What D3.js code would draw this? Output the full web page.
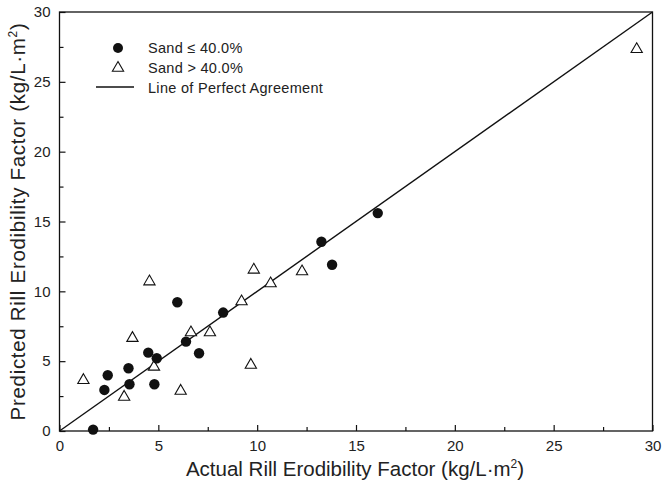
<!DOCTYPE html>
<html><head><meta charset="utf-8">
<script src="https://cdn.jsdelivr.net/npm/d3@7"></script>
<style>body{margin:0;background:#fff}svg{display:block}text{font-family:"Liberation Sans",Arial,sans-serif;fill:#222}</style>
</head><body>
<svg id="c" width="662" height="484"></svg>
<script>
const sandLow = [[1.7,0.1],[2.27,2.94],[2.44,3.99],[3.49,4.49],[3.54,3.35],[4.49,5.61],[4.92,5.21],[4.8,3.35],[5.96,9.22],[6.4,6.4],[7.06,5.57],[8.28,8.48],[13.25,13.55],[13.79,11.9],[16.1,15.6]];
const sandHigh = [[1.21,3.71],[3.27,2.51],[3.69,6.72],[4.55,10.77],[4.78,4.66],[6.13,2.94],[6.65,7.12],[7.61,7.12],[9.21,9.34],[9.68,4.8],[9.83,11.61],[10.68,10.63],[12.27,11.49],[29.2,27.4]];
const majorTicks = [0,5,10,15,20,25,30];
const minorTicks = [2.5,7.5,12.5,17.5,22.5,27.5];
const legendLabels = ["Sand \u2264 40.0%","Sand > 40.0%","Line of Perfect Agreement"];
const xTitle = "Actual Rill Erodibility Factor (kg/L\u00b7m";
const yTitle = "Predicted Rill Erodibility Factor (kg/L\u00b7m";

const svg = d3.select("#c");
const L=59.5,R=652.5,T=12,B=431;
const x = d3.scaleLinear().domain([0,30]).range([L,R]);
const y = d3.scaleLinear().domain([0,30]).range([B,T]);
const g = svg.append("g");

g.append("rect").attr("x",L).attr("y",T).attr("width",R-L).attr("height",B-T)
 .attr("fill","none").attr("stroke","#111").attr("stroke-width",1.3);

const ax = g.append("g").attr("transform",`translate(0,${B})`)
 .call(d3.axisBottom(x).tickValues(majorTicks).tickSize(-6).tickPadding(9).tickFormat(d3.format("d")));
ax.append("g").call(d3.axisBottom(x).tickValues(minorTicks).tickSize(-4).tickFormat(""));
const ay = g.append("g").attr("transform",`translate(${L},0)`)
 .call(d3.axisLeft(y).tickValues(majorTicks).tickSize(-6).tickPadding(9).tickFormat(d3.format("d")));
ay.append("g").call(d3.axisLeft(y).tickValues(minorTicks).tickSize(-4).tickFormat(""));
[ax,ay].forEach(a=>{a.selectAll(".domain").remove();a.selectAll("line").attr("stroke","#111").attr("stroke-width",1.2);
 a.selectAll("text").style("font-size","15px").attr("fill","#222");});

const xt = svg.append("text").attr("x",355).attr("y",476).attr("text-anchor","middle").style("font-size","20.5px");
xt.append("tspan").text(xTitle); xt.append("tspan").attr("dy",-8).style("font-size","12px").text("2");
xt.append("tspan").attr("dy",8).text(")");
const yt = svg.append("text").attr("transform",`translate(25,${(T+B)/2}) rotate(-90)`).attr("text-anchor","middle")
 .style("font-size","20.5px").style("letter-spacing","0.7px");
yt.append("tspan").text(yTitle); yt.append("tspan").attr("dy",-8).style("font-size","12px").text("2");
yt.append("tspan").attr("dy",8).text(")");

g.append("line").attr("x1",x(0)).attr("y1",y(0)).attr("x2",x(30)).attr("y2",y(30)).attr("stroke","#111").attr("stroke-width",1.4);

const tri = d3.symbol().type(d3.symbolTriangle).size(55);
g.selectAll("path.t").data(sandHigh).join("path").attr("class","t").attr("d",tri)
 .attr("transform",d=>`translate(${x(d[0])},${y(d[1])+1})`).attr("fill","#fff").attr("stroke","#111").attr("stroke-width",1.1);
g.selectAll("circle.p").data(sandLow).join("circle").attr("class","p")
 .attr("cx",d=>x(d[0])).attr("cy",d=>y(d[1])).attr("r",5.2).attr("fill","#111");

const lg = svg.append("g");
lg.append("circle").attr("cx",118).attr("cy",48).attr("r",5).attr("fill","#111");
lg.append("path").attr("d",tri).attr("transform","translate(118,68)").attr("fill","#fff").attr("stroke","#111").attr("stroke-width",1.1);
lg.append("line").attr("x1",96).attr("x2",134).attr("y1",87).attr("y2",87).attr("stroke","#111").attr("stroke-width",1.3);
lg.selectAll("text").data(legendLabels).join("text").attr("x",148).attr("y",(d,i)=>48+i*20).attr("dy","0.35em")
 .style("font-size","14.5px").style("letter-spacing","0.3px").text(d=>d);
</script>
</body></html>
